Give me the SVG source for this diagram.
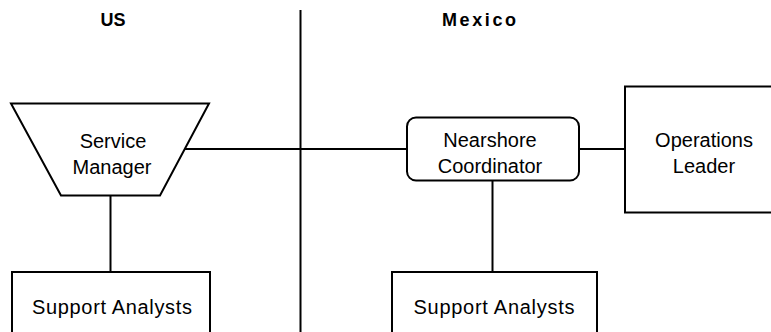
<svg xmlns="http://www.w3.org/2000/svg" width="771" height="332" viewBox="0 0 771 332">
<style>
.s{fill:#fff;stroke:#000;stroke-width:2}
.l{fill:none;stroke:#000;stroke-width:2}
.t{font-family:"Liberation Sans",Arial,sans-serif;font-size:20px;text-anchor:middle;fill:#000}
.h{font-family:"Liberation Sans",Arial,sans-serif;font-size:18px;font-weight:bold;text-anchor:middle;fill:#000}
</style>
<rect width="771" height="332" fill="#fff"/>
<g id="headers">
<text class="h" x="113" y="26">US</text>
<text class="h" x="479" y="26" textLength="74" lengthAdjust="spacing">Mexico</text>
</g>
<g id="connectors">
<line class="l" x1="300.5" y1="10" x2="300.5" y2="332"/>
<line class="l" x1="184" y1="149" x2="407" y2="149"/>
<line class="l" x1="579" y1="149" x2="625" y2="149"/>
<line class="l" x1="110.5" y1="195" x2="110.5" y2="272"/>
<line class="l" x1="492.5" y1="180" x2="492.5" y2="272"/>
</g>
<g id="service-manager">
<polygon class="s" points="11,103.5 209,103.5 160,195.5 61,195.5"/>
<text class="t" x="113" y="148">Service</text>
<text class="t" x="112" y="174">Manager</text>
</g>
<g id="support-us">
<rect class="s" x="12" y="272" width="198" height="70"/>
<text class="t" x="112" y="314" textLength="160" lengthAdjust="spacing">Support Analysts</text>
</g>
<g id="nearshore">
<rect class="s" x="407" y="117.5" width="172" height="63" rx="9"/>
<text class="t" x="490" y="147">Nearshore</text>
<text class="t" x="490" y="173">Coordinator</text>
</g>
<g id="operations">
<rect class="s" x="625" y="86.5" width="160" height="126"/>
<text class="t" x="704" y="147">Operations</text>
<text class="t" x="704" y="173">Leader</text>
</g>
<g id="support-mx">
<rect class="s" x="392" y="272" width="205" height="70"/>
<text class="t" x="494" y="314" textLength="161" lengthAdjust="spacing">Support Analysts</text>
</g>
</svg>
